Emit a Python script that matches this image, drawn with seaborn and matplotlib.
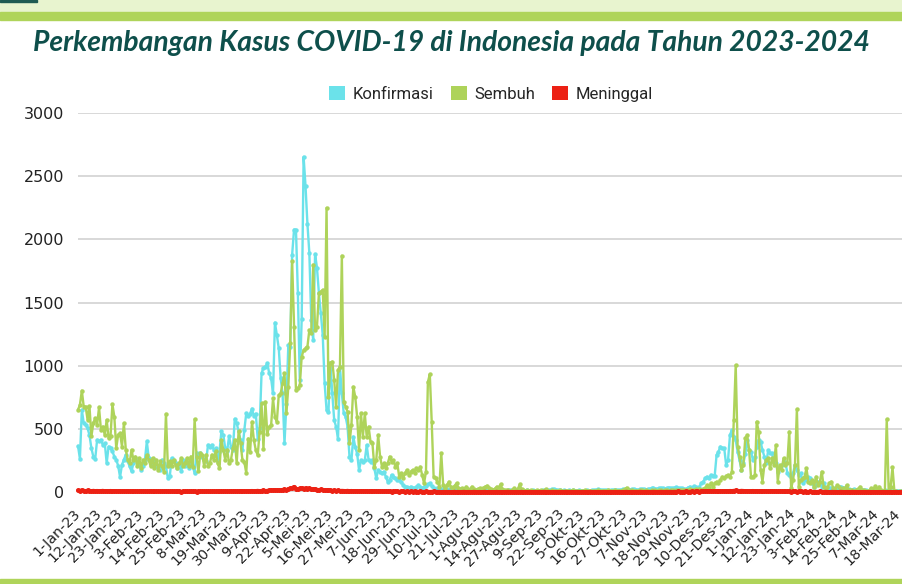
import matplotlib
matplotlib.use("Agg")
import matplotlib.pyplot as plt
from matplotlib.patches import Rectangle, Patch
import numpy as np
import pandas as pd
import seaborn as sns

# ---------------- data (daily values) ----------------
konfirmasi = [
    365, 263, 650, 545, 531, 505, 450, 347, 281, 263,
    413, 400, 413, 373, 387, 229, 360, 347, 321, 281,
    255, 208, 118, 216, 255, 295, 242, 203, 163, 229,
    268, 242, 216, 176, 203, 255, 400, 268, 229, 216,
    255, 203, 189, 176, 255, 229, 203, 110, 124, 268,
    242, 229, 189, 216, 163, 255, 203, 216, 189, 242,
    203, 150, 308, 295, 308, 281, 255, 242, 373, 360,
    373, 334, 347, 242, 320, 479, 452, 347, 321, 440,
    360, 334, 579, 545, 479, 413, 334, 492, 623, 600,
    620, 660, 600, 620, 420, 510, 940, 984, 992, 1019,
    940, 900, 780, 1341, 1243, 1138, 900, 780, 384, 700,
    1164, 1150, 1878, 2077, 2077, 1574, 886, 1368, 2653, 2421,
    2122, 1892, 1362, 1204, 1884, 1773, 1574, 1415, 1243, 860,
    648, 635, 1019, 780, 569, 516, 423, 992, 780, 622,
    595, 516, 278, 251, 437, 357, 304, 172, 251, 238,
    251, 372, 253, 240, 253, 187, 108, 174, 161, 148,
    161, 121, 82, 95, 135, 121, 108, 95, 95, 82,
    55, 42, 42, 29, 42, 35, 29, 42, 55, 42,
    29, 40, 50, 60, 69, 45, 29, 25, 29, 22,
    25, 20, 18, 22, 15, 25, 18, 14, 20, 16,
    12, 15, 18, 12, 10, 14, 16, 12, 10, 13,
    15, 12, 10, 14, 11, 9, 13, 15, 12, 10,
    8, 11, 13, 10, 9, 12, 14, 10, 8, 11,
    9, 12, 10, 8, 11, 13, 9, 10, 12, 8,
    10, 9, 11, 13, 10, 8, 12, 15, 20, 22,
    18, 14, 12, 10, 13, 11, 9, 12, 10, 14,
    11, 9, 12, 10, 8, 11, 13, 10, 9, 12,
    14, 16, 20, 18, 14, 12, 15, 13, 11, 14,
    16, 18, 15, 13, 17, 20, 18, 16, 14, 18,
    20, 22, 19, 17, 21, 24, 20, 18, 22, 25,
    28, 30, 26, 24, 28, 32, 29, 27, 31, 35,
    30, 28, 33, 36, 31, 29, 29, 25, 21, 35,
    42, 29, 47, 37, 29, 42, 69, 82, 108, 121,
    108, 135, 130, 127, 293, 319, 359, 346, 346, 214,
    253, 451, 491, 438, 412, 319, 253, 174, 227, 300,
    412, 332, 319, 253, 280, 359, 412, 398, 332, 280,
    227, 332, 306, 306, 240, 227, 161, 200, 214, 227,
    240, 148, 135, 121, 148, 214, 174, 135, 148, 69,
    95, 121, 116, 108, 69, 42, 55, 82, 69, 42,
    69, 29, 30, 35, 29, 25, 30, 35, 40, 42,
    35, 30, 25, 20, 16, 18, 20, 16, 15, 18,
    14, 12, 15, 10, 12, 14, 10, 9, 12, 10,
    8, 10, 12, 9, 8, 10, 7, 9, 8, 10,
    6, 8,
]

sembuh = [
    650, 690, 802, 676, 676, 572, 680, 440, 545, 584,
    531, 670, 492, 518, 452, 571, 426, 440, 694, 597,
    347, 452, 466, 360, 545, 334, 255, 229, 334, 255,
    281, 203, 268, 189, 255, 229, 295, 255, 203, 268,
    189, 255, 176, 242, 203, 160, 618, 203, 242, 203,
    255, 216, 189, 229, 268, 203, 229, 268, 203, 281,
    200, 576, 281, 163, 308, 295, 203, 295, 203, 229,
    295, 255, 321, 229, 189, 413, 334, 255, 334, 229,
    255, 347, 413, 229, 479, 387, 255, 238, 151, 423,
    317, 556, 410, 331, 291, 476, 701, 344, 714, 463,
    516, 529, 741, 595, 556, 767, 780, 860, 939, 622,
    833, 1177, 1825, 1310, 807, 820, 847, 1071, 1124, 1138,
    1151, 1283, 1257, 1799, 1283, 1310, 1574, 1587, 1600, 1230,
    2249, 754, 1019, 1032, 886, 675, 966, 992, 1870, 714,
    675, 635, 384, 529, 833, 754, 595, 331, 622, 438,
    622, 438, 517, 398, 385, 200, 253, 451, 280, 200,
    227, 187, 227, 280, 240, 253, 200, 227, 121, 148,
    108, 148, 174, 135, 161, 174, 148, 187, 174, 200,
    135, 69, 161, 870, 932, 557, 121, 108, 82, 42,
    306, 55, 29, 55, 82, 40, 35, 50, 69, 30,
    25, 30, 20, 42, 25, 18, 42, 20, 15, 22,
    29, 18, 30, 42, 50, 35, 20, 15, 25, 42,
    35, 60, 20, 15, 12, 18, 10, 15, 29, 12,
    20, 60, 20, 12, 10, 15, 8, 12, 10, 8,
    12, 10, 15, 8, 12, 21, 10, 8, 12, 9,
    10, 8, 12, 10, 7, 9, 11, 8, 10, 12,
    9, 8, 10, 7, 9, 12, 10, 8, 11, 9,
    7, 10, 12, 9, 8, 11, 10, 13, 9, 8,
    10, 12, 9, 11, 10, 14, 20, 34, 15, 10,
    12, 9, 11, 10, 13, 12, 10, 14, 11, 9,
    12, 10, 13, 11, 14, 12, 10, 15, 12, 11,
    14, 12, 10, 15, 13, 16, 14, 18, 12, 16,
    20, 15, 18, 22, 16, 20, 18, 25, 30, 55,
    29, 69, 37, 69, 82, 69, 95, 121, 108, 127,
    135, 121, 161, 570, 1005, 359, 280, 174, 214, 425,
    451, 332, 121, 121, 135, 557, 478, 174, 82, 214,
    253, 266, 187, 266, 214, 372, 82, 214, 174, 266,
    214, 227, 478, 29, 95, 214, 655, 42, 95, 108,
    121, 187, 82, 69, 95, 42, 121, 55, 82, 161,
    42, 29, 42, 69, 82, 29, 16, 55, 42, 25,
    29, 20, 55, 16, 12, 16, 10, 14, 20, 42,
    16, 12, 10, 8, 12, 29, 20, 47, 18, 42,
    16, 5, 8, 575, 16, 42, 195, 5, 5, 3,
    4, 5,
]

meninggal = [
    12, 10, 14, 11, 9, 12, 10, 8, 11, 9,
    10, 8, 9, 11, 7, 9, 8, 10, 7, 9,
    8, 7, 9, 6, 8, 7, 9, 6, 7, 8,
    6, 7, 5, 8, 6, 7, 5, 6, 8, 5,
    6, 5, 7, 4, 6, 5, 7, 5, 4, 6,
    5, 4, 6, 5, 3, 5, 4, 6, 4, 5,
    4, 5, 3, 5, 4, 6, 4, 5, 6, 4,
    5, 6, 4, 7, 5, 6, 4, 7, 5, 6,
    7, 5, 8, 6, 7, 9, 6, 8, 7, 9,
    8, 10, 7, 9, 11, 8, 10, 12, 9, 11,
    12, 15, 13, 17, 14, 16, 13, 18, 20, 16,
    24, 28, 32, 42, 26, 24, 28, 30, 27, 31,
    26, 28, 23, 20, 24, 19, 17, 20, 15, 16,
    14, 12, 15, 11, 13, 10, 12, 9, 11, 10,
    9, 11, 8, 10, 7, 9, 8, 6, 8, 7,
    6, 8, 5, 7, 6, 5, 7, 4, 6, 5,
    5, 6, 4, 5, 3, 5, 4, 6, 3, 4,
    4, 3, 5, 2, 4, 3, 4, 2, 3, 4,
    3, 2, 4, 3, 2, 3, 4, 2, 3, 2,
    2, 3, 1, 2, 3, 2, 1, 3, 2, 2,
    1, 2, 3, 1, 2, 2, 1, 3, 2, 1,
    2, 1, 2, 3, 1, 2, 1, 2, 1, 3,
    1, 2, 1, 1, 2, 3, 1, 2, 1, 2,
    2, 1, 3, 1, 2, 1, 2, 1, 1, 2,
    1, 2, 1, 2, 3, 1, 2, 1, 2, 1,
    2, 1, 1, 2, 1, 3, 1, 2, 1, 1,
    1, 2, 1, 1, 2, 1, 2, 1, 3, 1,
    2, 1, 2, 1, 1, 2, 1, 1, 2, 1,
    1, 2, 1, 2, 1, 1, 2, 3, 1, 2,
    2, 1, 2, 1, 3, 2, 1, 2, 2, 1,
    2, 3, 2, 1, 2, 3, 2, 2, 3, 2,
    3, 2, 3, 2, 4, 3, 2, 3, 4, 3,
    3, 4, 3, 5, 4, 3, 5, 4, 6, 5,
    5, 6, 5, 7, 6, 8, 7, 6, 8, 9,
    8, 10, 9, 11, 12, 10, 9, 11, 10, 8,
    9, 7, 8, 10, 7, 9, 6, 8, 7, 6,
    7, 5, 6, 8, 5, 6, 4, 6, 5, 4,
    5, 4, 6, 3, 5, 4, 3, 5, 4, 3,
    4, 3, 2, 4, 3, 2, 3, 2, 4, 3,
    2, 3, 2, 1, 3, 2, 2, 1, 2, 3,
    2, 1, 2, 2, 1, 3, 1, 2, 1, 2,
    1, 2, 1, 1, 2, 1, 2, 1, 1, 2,
    1, 1, 2, 1, 1, 2, 1, 1, 2, 1,
    1, 2,
]

tick_labels = [
    "1-Jan-23", "12-Jan-23", "23-Jan-23", "3-Feb-23", "14-Feb-23", "25-Feb-23",
    "8-Mar-23", "19-Mar-23", "30-Mar-23", "9-Apr-23", "22-Apr-23", "5-Mei-23",
    "16-Mei-23", "27-Mei-23", "7-Jun-23", "18-Jun-23", "29-Jun-23", "10-Jul-23",
    "21-Jul-23", "1-Agu-23", "14-Agu-23", "27-Agu-23", "9-Sep-23", "22-Sep-23",
    "5-Okt-23", "16-Okt-23", "27-Okt-23", "7-Nov-23", "18-Nov-23", "29-Nov-23",
    "10-Des-23", "21-Des-23", "1-Jan-24", "12-Jan-24", "23-Jan-24", "3-Feb-24",
    "14-Feb-24", "25-Feb-24", "7-Mar-24", "18-Mar-24",
]

series_names = ["Konfirmasi", "Sembuh", "Meninggal"]
colors = {"Konfirmasi": "#6BE2EA", "Sembuh": "#AED35A", "Meninggal": "#EC2114"}

n = min(len(konfirmasi), len(sembuh), len(meninggal))
frames = []
for name, vals in zip(series_names, [konfirmasi, sembuh, meninggal]):
    frames.append(pd.DataFrame({"hari": np.arange(n), "kasus": vals[:n], "seri": name}))
df = pd.concat(frames, ignore_index=True)

# ---------------- figure ----------------
sns.set_style("white")
plt.rcParams["font.family"] = ["DejaVu Sans"]

W, H = 903, 584
fig = plt.figure(figsize=(W / 100, H / 100), dpi=100)

# decorative bands
fig.patches.append(Rectangle((0, 1 - 12 / H), 1, 12 / H, transform=fig.transFigure,
                             color="#E8F4CF", zorder=0))
fig.patches.append(Rectangle((0, 1 - 20 / H), 1, 8 / H, transform=fig.transFigure,
                             color="#AFD45A", zorder=0))
fig.patches.append(Rectangle((0, 1 - 2 / H), 37 / W, 2 / H, transform=fig.transFigure,
                             color="#1F5B52", zorder=1))
fig.patches.append(Rectangle((0, 0), 1, 5 / H, transform=fig.transFigure,
                             color="#AFD45A", zorder=0))

ax = fig.add_axes([78 / W, 92 / H, 825 / W, 379 / H])

sns.lineplot(data=df, x="hari", y="kasus", hue="seri", hue_order=series_names,
             palette=colors, marker="o", markersize=3.2, markeredgewidth=0,
             linewidth=1.7, estimator=None, legend=False, ax=ax)
lines = ax.get_lines()
for ln in lines:
    ln.set_clip_on(False)
if len(lines) >= 3:
    lines[2].set_linewidth(2.6)
    lines[2].set_markersize(3.6)

ax.set_xlim(0, 431.5)
ax.set_ylim(0, 3000)
ax.set_yticks(np.arange(0, 3001, 500))
ax.yaxis.grid(True, color="#D6D6D6", linewidth=1.3)
ax.xaxis.grid(False)
ax.set_axisbelow(True)
for s in ax.spines.values():
    s.set_visible(False)
ax.set_xlabel("")
ax.set_ylabel("")

ax.set_xticks(np.arange(len(tick_labels)) * 11)
ax.set_xticklabels(tick_labels, rotation=45, ha="right", va="center",
                   rotation_mode="anchor", fontsize=10.3, color="#222222")
ax.tick_params(axis="x", length=0, pad=14)
ax.tick_params(axis="y", length=0, pad=10, labelsize=11.5, labelcolor="#222222")

# title
fig.text(0.5, 1 - 43 / H, "Perkembangan Kasus COVID-19 di Indonesia pada Tahun 2023-2024",
         ha="center", va="center", fontsize=20.3, fontweight="bold", fontstyle="italic",
         color="#0E4F4B", family=["Lato", "DejaVu Sans"])

# legend
handles = [Patch(facecolor=colors[s], edgecolor="none") for s in series_names]
leg = fig.legend(handles, series_names, loc="center", bbox_to_anchor=(491 / W, 1 - 94 / H),
                 ncol=3, frameon=False, handlelength=0.95, handleheight=0.95,
                 handletextpad=0.45, columnspacing=1.05,
                 prop={"family": ["Roboto", "DejaVu Sans"], "size": 12})

fig.savefig("out.png", dpi=100)
